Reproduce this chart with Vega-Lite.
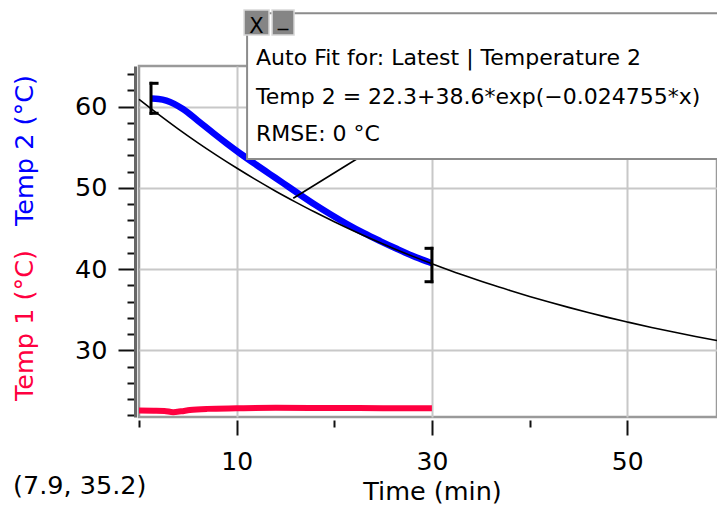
{
  "$schema": "https://vega.github.io/schema/vega-lite/v6.json",
  "width": 578,
  "height": 351,
  "autosize": {"type": "none"},
  "padding": {"left": 139, "top": 66, "right": 0, "bottom": 88},
  "background": "white",
  "config": {
    "font": "DejaVu Sans",
    "view": {"stroke": "#9a9a9a", "strokeWidth": 2.5},
    "axis": {"labelFont": "DejaVu Sans", "titleFont": "DejaVu Sans", "labelColor": "#000", "gridColor": "#c8c8c8", "gridWidth": 2, "tickColor": "#111", "tickWidth": 2, "labelOverlap": false}
  },
  "datasets": {
    "temp1": [
      {"t": 0, "v": 22.6}, {"t": 1.5, "v": 22.58}, {"t": 2.6, "v": 22.55}, {"t": 3.5, "v": 22.4}, {"t": 4.3, "v": 22.5},
      {"t": 5.2, "v": 22.66}, {"t": 7, "v": 22.8}, {"t": 10, "v": 22.87}, {"t": 14, "v": 22.93}, {"t": 20, "v": 22.9},
      {"t": 25, "v": 22.89}, {"t": 30, "v": 22.88}
    ],
    "temp2": [
      {"t": 1.3, "v": 61.0}, {"t": 2.0, "v": 60.95}, {"t": 2.8, "v": 60.75}, {"t": 3.6, "v": 60.35}, {"t": 4.5, "v": 59.7},
      {"t": 6.0, "v": 58.3}, {"t": 7.6, "v": 56.75}, {"t": 9.0, "v": 55.45}, {"t": 10.4, "v": 54.2}, {"t": 12.0, "v": 52.85},
      {"t": 13.4, "v": 51.7}, {"t": 14.8, "v": 50.55}, {"t": 16.2, "v": 49.4}, {"t": 18.0, "v": 47.95}, {"t": 19.6, "v": 46.75},
      {"t": 21.3, "v": 45.55}, {"t": 23.0, "v": 44.45}, {"t": 24.7, "v": 43.45}, {"t": 26.4, "v": 42.5}, {"t": 28.0, "v": 41.65},
      {"t": 29.6, "v": 40.9}, {"t": 30.0, "v": 40.72}
    ],
    "fit": [
      {"t": 0, "v": 60.9}, {"t": 2, "v": 59.04}, {"t": 4, "v": 57.26}, {"t": 6, "v": 55.57}, {"t": 8, "v": 53.97},
      {"t": 10, "v": 52.44}, {"t": 12, "v": 50.98}, {"t": 14, "v": 49.59}, {"t": 16, "v": 48.28}, {"t": 18, "v": 47.02},
      {"t": 20, "v": 45.83}, {"t": 22, "v": 44.69}, {"t": 24, "v": 43.61}, {"t": 26, "v": 42.58}, {"t": 28, "v": 41.6},
      {"t": 30, "v": 40.67}, {"t": 32, "v": 39.78}, {"t": 34, "v": 38.94}, {"t": 36, "v": 38.13}, {"t": 38, "v": 37.37},
      {"t": 40, "v": 36.64}, {"t": 42, "v": 35.95}, {"t": 44, "v": 35.29}, {"t": 46, "v": 34.66}, {"t": 48, "v": 34.06},
      {"t": 50, "v": 33.5}, {"t": 52.5, "v": 32.82}, {"t": 55, "v": 32.19}, {"t": 57, "v": 31.71}, {"t": 59.2, "v": 31.22}
    ],
    "brackets": [
      {"t1": 1.23, "t2": 1.23, "v1": 59.18, "v2": 62.87},
      {"t1": 1.23, "t2": 1.85, "v1": 62.87, "v2": 62.87},
      {"t1": 1.23, "t2": 1.85, "v1": 59.18, "v2": 59.18},
      {"t1": 30.0, "t2": 30.0, "v1": 38.45, "v2": 42.56},
      {"t1": 29.4, "t2": 30.0, "v1": 42.56, "v2": 42.56},
      {"t1": 29.4, "t2": 30.0, "v1": 38.45, "v2": 38.45}
    ],
    "leader": [{"t1": 22.3, "t2": 15.8, "v1": 53.55, "v2": 48.72}],
    "box": [{"t1": 11.07, "t2": 62, "v1": 53.55, "v2": 71.49}],
    "buttons": [
      {"t1": 10.76, "t2": 13.32, "v1": 68.82, "v2": 71.89},
      {"t1": 13.63, "t2": 15.88, "v1": 68.82, "v2": 71.89}
    ],
    "buttonText": [
      {"t": 12.04, "v": 69.1, "label": "X"},
      {"t": 14.75, "v": 70.0, "label": "_"}
    ],
    "boxText": [
      {"t": 11.99, "v": 65.12, "label": "Auto Fit for: Latest | Temperature 2"},
      {"t": 11.99, "v": 60.32, "label": "Temp 2 = 22.3+38.6*exp(−0.024755*x)"},
      {"t": 11.99, "v": 55.77, "label": "RMSE: 0 °C"}
    ],
    "coord": [{"t": -12.9, "v": 12.36, "label": "(7.9, 35.2)"}]
  },
  "layer": [
    {
      "data": {"name": "temp1"},
      "mark": {"type": "line", "color": "#ff0040", "strokeWidth": 6, "interpolate": "monotone"},
      "encoding": {
        "x": {"field": "t", "type": "quantitative", "scale": {"domain": [0, 59.2], "nice": false, "zero": false},
          "axis": {
            "values": [0, 10, 20, 30, 40, 50],
            "labelExpr": "datum.value % 20 === 10 ? datum.label : ''",
            "tickSize": {"condition": {"test": "datum.value % 20 === 10", "value": 15}, "value": 7},
            "grid": true,
            "gridOpacity": {"condition": {"test": "datum.value % 20 === 10", "value": 1}, "value": 0},
            "offset": 3, "domain": false, "labelFontSize": 25, "labelPadding": 14, "labelFlush": false,
            "title": "Time (min)", "titleFontSize": 25.5, "titleFontWeight": "normal", "titleColor": "#000",
            "titlePadding": 5, "titleX": 293
          }},
        "y": {"field": "v", "type": "quantitative", "scale": {"domain": [21.8, 65], "nice": false, "zero": false},
          "axis": {"orient": "left", "title": "Temp 1 (°C)", "titleColor": "#ff0040", "labels": false, "ticks": false, "domain": false, "grid": false,
            "titleFontSize": 25.5, "titleFontWeight": "normal", "titleX": -98, "titleY": 259, "offset": 4}}
      }
    },
    {
      "data": {"name": "temp2"},
      "mark": {"type": "line", "color": "#0000ff", "strokeWidth": 6.5, "interpolate": "monotone"},
      "encoding": {
        "x": {"field": "t", "type": "quantitative", "scale": {"domain": [0, 59.2], "nice": false, "zero": false}, "axis": null},
        "y": {"field": "v", "type": "quantitative", "scale": {"domain": [21.8, 65], "nice": false, "zero": false},
          "axis": {
            "orient": "left",
            "values": [22, 24, 26, 28, 30, 32, 34, 36, 38, 40, 42, 44, 46, 48, 50, 52, 54, 56, 58, 60, 62, 64],
            "labelExpr": "datum.value % 10 === 0 ? datum.label : ''",
            "tickSize": {"condition": {"test": "datum.value % 10 === 0", "value": 17}, "value": 8},
            "grid": true,
            "gridOpacity": {"condition": {"test": "datum.value % 10 === 0", "value": 1}, "value": 0},
            "offset": 4, "domainColor": "#666", "domainWidth": 3, "labelFontSize": 25.5, "labelPadding": 11,
            "title": "Temp 2 (°C)", "titleColor": "#0000ff", "titleFontSize": 25.5, "titleFontWeight": "normal",
            "titleX": -98, "titleY": 84
          }}
      }
    },
    {
      "data": {"name": "fit"},
      "mark": {"type": "line", "color": "#000", "strokeWidth": 1.6, "interpolate": "monotone"},
      "encoding": {
        "x": {"field": "t", "type": "quantitative", "scale": {"domain": [0, 59.2], "nice": false, "zero": false}, "axis": null},
        "y": {"field": "v", "type": "quantitative", "scale": {"domain": [21.8, 65], "nice": false, "zero": false}, "axis": null}
      }
    },
    {
      "data": {"name": "brackets"},
      "mark": {"type": "rule", "color": "#000", "strokeWidth": 3, "strokeCap": "square"},
      "encoding": {
        "x": {"field": "t1", "type": "quantitative", "scale": {"domain": [0, 59.2], "nice": false, "zero": false}, "axis": null},
        "x2": {"field": "t2"},
        "y": {"field": "v1", "type": "quantitative", "scale": {"domain": [21.8, 65], "nice": false, "zero": false}, "axis": null},
        "y2": {"field": "v2"}
      }
    },
    {
      "data": {"name": "leader"},
      "mark": {"type": "rule", "color": "#000", "strokeWidth": 1.6},
      "encoding": {
        "x": {"field": "t1", "type": "quantitative", "scale": {"domain": [0, 59.2], "nice": false, "zero": false}, "axis": null},
        "x2": {"field": "t2"},
        "y": {"field": "v1", "type": "quantitative", "scale": {"domain": [21.8, 65], "nice": false, "zero": false}, "axis": null},
        "y2": {"field": "v2"}
      }
    },
    {
      "data": {"name": "box"},
      "mark": {"type": "rect", "fill": "#ffffff", "stroke": "#8c8c8c", "strokeWidth": 2},
      "encoding": {
        "x": {"field": "t1", "type": "quantitative", "scale": {"domain": [0, 59.2], "nice": false, "zero": false}, "axis": null},
        "x2": {"field": "t2"},
        "y": {"field": "v1", "type": "quantitative", "scale": {"domain": [21.8, 65], "nice": false, "zero": false}, "axis": null},
        "y2": {"field": "v2"}
      }
    },
    {
      "data": {"name": "buttons"},
      "mark": {"type": "rect", "fill": "#858585", "stroke": "#d8d8d8", "strokeWidth": 1.5},
      "encoding": {
        "x": {"field": "t1", "type": "quantitative", "scale": {"domain": [0, 59.2], "nice": false, "zero": false}, "axis": null},
        "x2": {"field": "t2"},
        "y": {"field": "v1", "type": "quantitative", "scale": {"domain": [21.8, 65], "nice": false, "zero": false}, "axis": null},
        "y2": {"field": "v2"}
      }
    },
    {
      "data": {"name": "buttonText"},
      "mark": {"type": "text", "font": "DejaVu Sans", "fontSize": 21, "color": "#000", "align": "center", "baseline": "alphabetic"},
      "encoding": {
        "x": {"field": "t", "type": "quantitative", "scale": {"domain": [0, 59.2], "nice": false, "zero": false}, "axis": null},
        "y": {"field": "v", "type": "quantitative", "scale": {"domain": [21.8, 65], "nice": false, "zero": false}, "axis": null},
        "text": {"field": "label"}
      }
    },
    {
      "data": {"name": "boxText"},
      "mark": {"type": "text", "font": "DejaVu Sans", "fontSize": 22, "color": "#000", "align": "left", "baseline": "alphabetic"},
      "encoding": {
        "x": {"field": "t", "type": "quantitative", "scale": {"domain": [0, 59.2], "nice": false, "zero": false}, "axis": null},
        "y": {"field": "v", "type": "quantitative", "scale": {"domain": [21.8, 65], "nice": false, "zero": false}, "axis": null},
        "text": {"field": "label"}
      }
    },
    {
      "data": {"name": "coord"},
      "mark": {"type": "text", "font": "DejaVu Sans", "fontSize": 25.5, "color": "#000", "align": "left", "baseline": "alphabetic"},
      "encoding": {
        "x": {"field": "t", "type": "quantitative", "scale": {"domain": [0, 59.2], "nice": false, "zero": false}, "axis": null},
        "y": {"field": "v", "type": "quantitative", "scale": {"domain": [21.8, 65], "nice": false, "zero": false}, "axis": null},
        "text": {"field": "label"}
      }
    }
  ],
  "resolve": {"axis": {"x": "independent", "y": "independent"}}
}
